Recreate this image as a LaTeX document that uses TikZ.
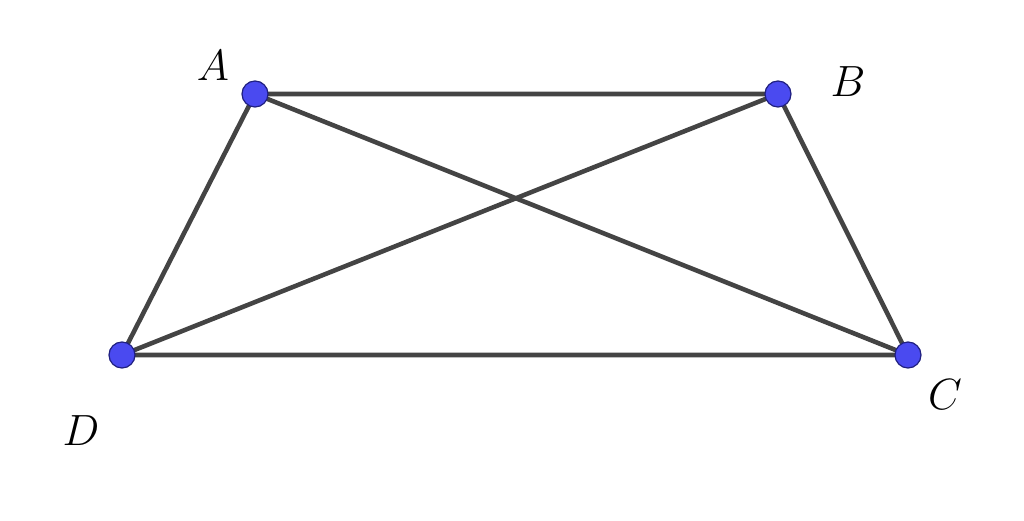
\documentclass[tikz,border=0pt]{standalone}
\usepackage{xcolor}
\usepackage{tikz}

\definecolor{segcol}{HTML}{444444}
\definecolor{ptfill}{HTML}{4A4AF0}
\definecolor{ptdraw}{HTML}{202080}

\tikzset{
    seg/.style={draw=segcol, line width=2.6pt},
    pt/.style={circle, fill=ptfill, draw=ptdraw, line width=0.7pt, inner sep=0pt, minimum size=0.52cm},
    lbl/.style={font=\fontsize{29}{32}\selectfont}
}

\begin{document}
\begin{tikzpicture}
    \useasboundingbox (0,0) rectangle (20.48,10.42);

    \coordinate (A) at (5.10,8.54);
    \coordinate (B) at (15.56,8.54);
    \coordinate (C) at (18.16,3.32);
    \coordinate (D) at (2.44,3.32);

    \draw[seg] (A) -- (B) -- (C) -- (D) -- cycle;
    \draw[seg] (A) -- (C);
    \draw[seg] (B) -- (D);

    \node[pt] (pA) at (A) {};
    \node[pt] (pB) at (B) {};
    \node[pt] (pC) at (C) {};
    \node[pt] (pD) at (D) {};

    \node[lbl] (lA) at (4.26,9.10) {$A$};
    \node[lbl] (lB) at (16.96,8.78) {$B$};
    \node[lbl] (lC) at (18.90,2.52) {$C$};
    \node[lbl] (lD) at (1.62,1.80) {$D$};
\end{tikzpicture}
\end{document}
